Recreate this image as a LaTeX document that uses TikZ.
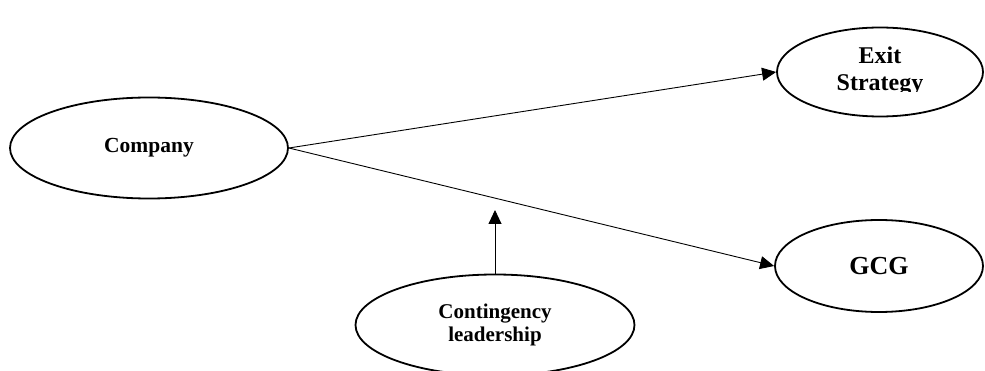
\documentclass[tikz,border=0pt]{standalone}
\usepackage{fontspec}
\setmainfont{Liberation Serif}
\usetikzlibrary{shapes.geometric,arrows.meta}
\tikzset{
  oval/.style={ellipse, draw, line width=1.8pt, inner sep=0pt, font=\bfseries, align=center},
  link/.style={line width=0.9pt, -{Triangle[length=14pt,width=13pt]}}
}
\begin{document}
\begin{tikzpicture}[x=1pt,y=-1pt]
\useasboundingbox (0,0) rectangle (985,371);
\node[oval, minimum width=278pt, minimum height=101pt, font=\bfseries\fontsize{21.5}{24}\selectfont] (company) at (149,148) {\raisebox{-4pt}{Company}};
\node[oval, minimum width=206pt, minimum height=89pt] (exit) at (880,72) {};
\begin{scope}
  \clip (770,0) rectangle (985,91.5);
  \node[font=\bfseries\fontsize{24}{27}\selectfont, align=center, inner sep=0pt] (exittext) at (880,71) {Exit\\Strategy};
\end{scope}
\node[oval, minimum width=208pt, minimum height=92pt, font=\bfseries\fontsize{26}{30}\selectfont] (gcg) at (879,266) {GCG};
\node[oval, minimum width=279pt, minimum height=101pt, font=\bfseries\fontsize{21}{23}\selectfont] (cont) at (495,325) {Contingency\\leadership};
\coordinate (mod) at (495,210);
\draw[link] (company.east) -- (exit.west);
\draw[link] (company.east) -- (gcg.west);
\draw[link] (cont.north) -- (mod);
\end{tikzpicture}
\end{document}
